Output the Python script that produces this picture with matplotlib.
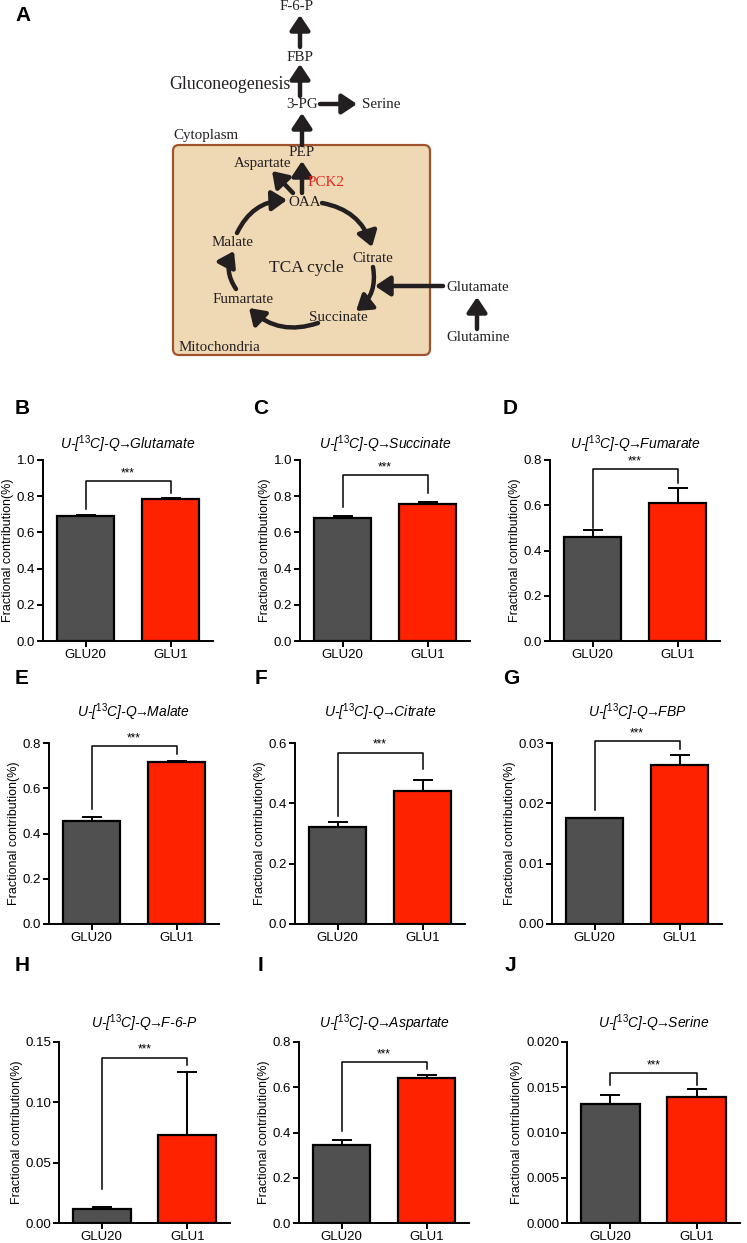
import matplotlib
matplotlib.use('Agg')
import matplotlib.pyplot as plt
from matplotlib.patches import FancyArrowPatch, FancyBboxPatch
from matplotlib.ticker import MultipleLocator, FormatStrFormatter

plt.rcParams['font.family'] = ['Liberation Sans', 'DejaVu Sans']
plt.rcParams['mathtext.fontset'] = 'custom'
plt.rcParams['mathtext.rm'] = 'Liberation Sans'
plt.rcParams['mathtext.it'] = 'Liberation Sans:italic'

# ---- data ----
groups = ['GLU20', 'GLU1']
panel_letters = ['B', 'C', 'D', 'E', 'F', 'G', 'H', 'I', 'J']
targets = ['Glutamate', 'Succinate', 'Fumarate', 'Malate', 'Citrate', 'FBP',
           'F-6-P', 'Aspartate', 'Serine']
glu20_mean = [0.690, 0.677, 0.460, 0.455, 0.322, 0.0175, 0.0117, 0.345, 0.0132]
glu20_err = [0.006, 0.014, 0.030, 0.018, 0.016, 0.0001, 0.0013, 0.020, 0.0009]
glu1_mean = [0.785, 0.757, 0.610, 0.715, 0.440, 0.0264, 0.0730, 0.640, 0.0139]
glu1_err = [0.006, 0.012, 0.066, 0.007, 0.039, 0.0016, 0.0520, 0.012, 0.0009]
y_max = [1.0, 1.0, 0.8, 0.8, 0.6, 0.03, 0.15, 0.8, 0.02]
y_step = [0.2, 0.2, 0.2, 0.2, 0.2, 0.01, 0.05, 0.2, 0.005]
y_fmt = ['%.1f', '%.1f', '%.1f', '%.1f', '%.1f', '%.2f', '%.2f', '%.1f', '%.3f']
# significance bracket: bar height, left leg bottom, right leg bottom
bracket_top = [0.884, 0.917, 0.760, 0.785, 0.568, 0.0303, 0.137, 0.711, 0.0166]
bracket_left = [0.732, 0.738, 0.500, 0.507, 0.359, 0.0189, 0.028, 0.407, 0.0153]
bracket_right = [0.815, 0.820, 0.700, 0.752, 0.514, 0.0290, 0.131, 0.681, 0.0153]

W, H = 747, 1243
fig = plt.figure(figsize=(W / 100, H / 100), dpi=100)

# ---- panel A: pathway diagram, drawn in pixel coordinates ----
dax = fig.add_axes([0, 0, 1, 1], zorder=0)
dax.set_xlim(0, W)
dax.set_ylim(H, 0)
dax.axis('off')

box = FancyBboxPatch((173, 145), 257, 210, boxstyle='round,pad=0,rounding_size=6',
                     facecolor='#efd9b5', edgecolor='#a0522d', lw=1.6)
dax.add_patch(box)

serif = ['Liberation Serif', 'DejaVu Serif']
dark = '#231f20'
fs = 10.8
labels = [('F-6-P', 297, 6, fs), ('FBP', 300, 57, fs), ('3-PG', 302, 104, fs),
          ('Serine', 381, 104, fs), ('Cytoplasm', 206, 135, fs), ('PEP', 302, 152, fs),
          ('Aspartate', 263, 163, fs), ('OAA', 305, 202, fs), ('Malate', 233, 242, fs),
          ('Citrate', 373, 258, fs), ('TCA cycle', 306, 268, 12.5), ('Glutamate', 478, 287, fs),
          ('Fumartate', 243, 299, fs), ('Succinate', 338, 317, fs),
          ('Glutamine', 478, 337, fs), ('Mitochondria', 219, 347, fs)]
for txt, x, y, size in labels:
    dax.text(x, y, txt, family=serif, fontsize=size, ha='center', va='center', color=dark)
dax.text(290, 84, 'Gluconeogenesis', family=serif, fontsize=12.8, ha='right', va='center',
         color=dark)
dax.text(326, 182, 'PCK2', family=serif, fontsize=fs, ha='center', va='center',
         color='#e8231d')

astyle = '-|>,head_length=0.45,head_width=0.3'
straight = [((300, 47), (300, 15)), ((300, 96), (300, 64)), ((302, 145), (302, 113)),
            ((320, 104), (357, 104)), ((302, 193), (302, 161)), ((293, 193), (272, 171)),
            ((443, 286), (375, 286)), ((477, 329), (477, 297))]
for (x0, y0), (x1, y1) in straight:
    dax.add_patch(FancyArrowPatch((x0, y0), (x1, y1), arrowstyle=astyle,
                                  mutation_scale=20, lw=3.2, color=dark,
                                  shrinkA=0, shrinkB=0))

arcs = [((322, 203), (372, 247)), ((373, 267), (356, 311)), ((318, 323), (249, 308)),
        ((236, 289), (234, 251)), ((237, 233), (287, 200))]
for (x0, y0), (x1, y1) in arcs:
    dax.add_patch(FancyArrowPatch((x0, y0), (x1, y1), connectionstyle='arc3,rad=-0.3',
                                  arrowstyle=astyle, mutation_scale=20, lw=3.2, color=dark,
                                  shrinkA=0, shrinkB=0))

dax.text(15, 15, 'A', fontsize=15, fontweight='bold', ha='left', va='center')

# ---- panels B-J ----
rows_top = [460, 743, 1042]
lefts = [[43, 300, 550], [49, 295, 552], [59, 299, 567]]
widths = [[170, 170, 170], [170, 170, 170], [171, 170, 173]]
title_pad = [8, 19, 10]
letter_x = [[15, 253, 503], [15, 255, 503], [15, 258, 505]]
letter_y = [408, 678, 965]
ax_h = 181

for i in range(9):
    r, c = divmod(i, 3)
    left, top, w = lefts[r][c], rows_top[r], widths[r][c]
    ax = fig.add_axes([left / W, 1 - (top + ax_h) / H, w / W, ax_h / H], zorder=2)
    means = [glu20_mean[i], glu1_mean[i]]
    errs = [glu20_err[i], glu1_err[i]]
    ax.bar([0, 1], means, width=0.68, color=['#505050', '#ff2200'],
           edgecolor='black', linewidth=1.6, zorder=2)
    ax.errorbar([0, 1], means, yerr=[[0, 0], errs], fmt='none', ecolor='black',
                elinewidth=1.4, capsize=7.5, capthick=1.4, zorder=3)
    ax.set_xlim(-0.5, 1.5)
    ax.set_ylim(0, y_max[i])
    ax.yaxis.set_major_locator(MultipleLocator(y_step[i]))
    ax.yaxis.set_major_formatter(FormatStrFormatter(y_fmt[i]))
    ax.set_xticks([0, 1])
    ax.set_xticklabels(groups)
    for s in ['top', 'right']:
        ax.spines[s].set_visible(False)
    for s in ['left', 'bottom']:
        ax.spines[s].set_linewidth(1.4)
    ax.tick_params(width=1.4, length=4, labelsize=9.5, pad=1.5)
    ax.set_ylabel('Fractional contribution(%)', fontsize=9, labelpad=2)
    ax.set_title(r'U-[$^{\mathit{13}}$C]-Q$\!\!\to\!\!$' + targets[i], fontsize=10,
                 style='italic', pad=title_pad[r])

    bt = bracket_top[i]
    ax.plot([0, 0, 1, 1], [bracket_left[i], bt, bt, bracket_right[i]], color='black',
            lw=1.1, clip_on=False, zorder=4)
    ax.text(0.5, bt + y_max[i] * 0.01, '***', ha='center', va='bottom', fontsize=8.5,
            clip_on=False)

    dax.text(letter_x[r][c], letter_y[r], panel_letters[i], fontsize=15, fontweight='bold',
             ha='left', va='center')

fig.savefig('out.png', dpi=100)
